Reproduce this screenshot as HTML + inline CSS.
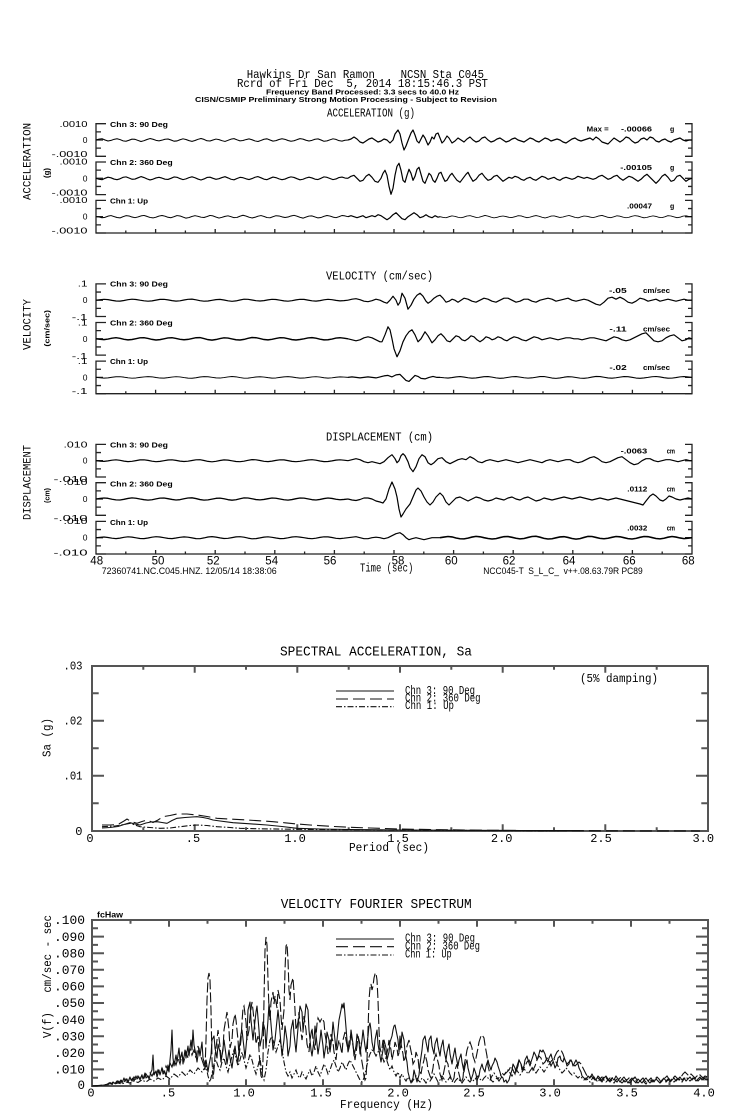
<!DOCTYPE html>
<html><head><meta charset="utf-8"><style>
html,body{margin:0;padding:0;background:#fff;}
body{width:739px;height:1115px;overflow:hidden;}
svg{display:block;}
.m{font-family:"Liberation Mono",monospace;fill:#000;}
.b{font-family:"Liberation Sans",sans-serif;font-weight:bold;fill:#000;}
.n{font-family:"Liberation Sans",sans-serif;fill:#000;}
.tr{fill:none;stroke:#000;stroke-width:1.2;stroke-linejoin:round;}
.ax{fill:none;stroke:#222;stroke-width:1.3;}
.bx{fill:none;stroke:#555;stroke-width:2;}
.s1{fill:none;stroke:#111;stroke-width:1.1;stroke-linejoin:round;}
.s2{fill:none;stroke:#111;stroke-width:1.1;stroke-dasharray:10 3;}
.s3{fill:none;stroke:#111;stroke-width:1.1;stroke-dasharray:6 2 1.5 2;}
</style></head><body>
<svg width="739" height="1115" viewBox="0 0 739 1115" xmlns="http://www.w3.org/2000/svg">
<rect x="0" y="0" width="739" height="1115" fill="#fff"/>
<defs>
<polyline id="nA" class="tr" points="0,0 3,-1 6,-1.5 9,0 12,1.2 15,0.5 18,-0.8 21,-1.5 24,-0.5 27,1 30,1.5 33,0.3 36,-1 39,-0.8 42,0.5 45,1.8 48,0.8 51,-0.6 54,-1.7 57,-0.9 60,0.4 63,1 66,0.2 69,-0.9 72,-1.2 75,0 78,1.4 81,1.1 84,-0.3 87,-1.4 90,-0.6 93,0.7 96,1.6 99,0.6 102,-0.8 105,-1.8 108,-0.7 111,0.9 114,1.2 117,0 120,-1.1 123,-0.4 126,0.8 129,1.7 132,0.4 135,-1 138,-1.6 141,-0.2 144,1 147,0.6 150,-0.5 153,-1.3 156,-0.3 159,1.1 162,1.8 165,0.5 168,-0.9 171,-1.4 174,0 177,1.3 180,0.7 183,-0.6 186,-1.5 189,-0.8 192,0.6 195,1.5 198,0.9 201,-0.4 204,-1.6 207,-1 210,0.3 213,1.2 216,0.4 219,-0.9 222,-1.3 225,0 228,1.5 231,1 234,-0.2 237,-1.4 240,-0.7 243,0.8 246,1.3 249,0.3 252,0"/>
<polyline id="nV" class="tr" points="0,0 4,-0.5 8,-0.9 12,-0.6 16,0.2 20,0.8 24,0.9 28,0.3 32,-0.5 36,-1 40,-0.7 44,0 48,0.6 52,1 56,0.7 60,-0.1 64,-0.8 68,-0.9 72,-0.3 76,0.4 80,0.9 84,0.6 88,-0.2 92,-0.9 96,-1.1 100,-0.4 104,0.5 108,1 112,0.8 116,0.1 120,-0.6 124,-0.8 128,-0.2 132,0.6 136,1.1 140,0.7 144,-0.2 148,-1 152,-0.9 156,-0.2 160,0.5 164,0.8 168,0.4 172,-0.3 176,-0.9 180,-0.7 184,0 188,0.7 192,1 196,0.5 200,-0.3 204,-0.9 208,-0.8 212,-0.1 216,0.6 220,0.9 224,0.4 228,-0.4 232,-0.9 236,-0.5 240,0.2 244,0.7 248,0.4 252,0"/>
<path id="brk" class="ax" d="M106,-16.3H96V16.3H106 M96,-8.15H101 M96,0H103 M96,8.15H101 M685,-16.3H692V16.3H685 M692,-8.15H688 M692,0H685 M692,8.15H688"/>
<path id="tax" class="ax" d="M96,0H692 M125.8,0v-2.5 M155.6,0v-4 M185.4,0v-2.5 M215.2,0v-4 M245,0v-2.5 M274.8,0v-4 M304.6,0v-2.5 M334.4,0v-4 M364.2,0v-2.5 M394,0v-4 M423.8,0v-2.5 M453.6,0v-4 M483.4,0v-2.5 M513.2,0v-4 M543,0v-2.5 M572.8,0v-4 M602.6,0v-2.5 M632.4,0v-4 M662.2,0v-2.5"/>
</defs>

<!-- Header -->
<text class="m" x="246.7" y="77.8" font-size="12" textLength="237.3" lengthAdjust="spacingAndGlyphs" style="white-space:pre">Hawkins Dr San Ramon    NCSN Sta C045</text>
<text class="m" x="237" y="87" font-size="12" textLength="251" lengthAdjust="spacingAndGlyphs" style="white-space:pre">Rcrd of Fri Dec  5, 2014 18:15:46.3 PST</text>
<text class="b" x="266" y="94.3" font-size="7" textLength="193" lengthAdjust="spacingAndGlyphs">Frequency Band Processed: 3.3 secs to 40.0 Hz</text>
<text class="b" x="195" y="101.8" font-size="7" textLength="302" lengthAdjust="spacingAndGlyphs">CISN/CSMIP Preliminary Strong Motion Processing - Subject to Revision</text>

<!-- ACCELERATION panel -->
<text class="m" x="327" y="116.7" font-size="11.5" textLength="88" lengthAdjust="spacingAndGlyphs">ACCELERATION (g)</text>
<text class="m" transform="translate(30.7,161.5) rotate(-90)" text-anchor="middle" font-size="11" textLength="77" lengthAdjust="spacingAndGlyphs">ACCELERATION</text>
<text class="b" transform="translate(49.5,173) rotate(-90)" text-anchor="middle" font-size="8" textLength="10" lengthAdjust="spacingAndGlyphs">(g)</text>
<use href="#brk" transform="translate(0,140)"/>
<use href="#brk" transform="translate(0,178.3)"/>
<use href="#brk" transform="translate(0,216.7)"/>
<use href="#tax" transform="translate(0,233)"/>
<g class="n" font-size="8.5" text-anchor="end">
<text x="87.5" y="127" textLength="28" lengthAdjust="spacingAndGlyphs">.0010</text>
<text x="87.5" y="143">0</text>
<text x="87.5" y="157" textLength="36" lengthAdjust="spacingAndGlyphs">-.0010</text>
<text x="87.5" y="164.5" textLength="28" lengthAdjust="spacingAndGlyphs">.0010</text>
<text x="87.5" y="181.3">0</text>
<text x="87.5" y="195.5" textLength="36" lengthAdjust="spacingAndGlyphs">-.0010</text>
<text x="87.5" y="203" textLength="28" lengthAdjust="spacingAndGlyphs">.0010</text>
<text x="87.5" y="219.7">0</text>
<text x="87.5" y="233.7" textLength="36" lengthAdjust="spacingAndGlyphs">-.0010</text>
</g>
<g class="b" font-size="7">
<text x="110" y="127" textLength="58" lengthAdjust="spacingAndGlyphs">Chn 3: 90 Deg</text>
<text x="110" y="165" textLength="62.7" lengthAdjust="spacingAndGlyphs">Chn 2: 360 Deg</text>
<text x="110" y="203.4" textLength="38" lengthAdjust="spacingAndGlyphs">Chn 1: Up</text>
<text x="586.7" y="131.7" textLength="22" lengthAdjust="spacingAndGlyphs">Max =</text>
<text x="652" y="131.7" text-anchor="end" textLength="31" lengthAdjust="spacingAndGlyphs">-.00066</text>
<text x="670" y="131.7">g</text>
<text x="652" y="170" text-anchor="end" textLength="31.7" lengthAdjust="spacingAndGlyphs">-.00105</text>
<text x="670" y="170">g</text>
<text x="652" y="208.7" text-anchor="end" textLength="25" lengthAdjust="spacingAndGlyphs">.00047</text>
<text x="670" y="208.7">g</text>
</g>
<use href="#nA" transform="translate(96,140) scale(1,0.85)"/>
<polyline class="tr" transform="translate(0,140)" points="348,0 351,-1 354,-3 357,-1 360,2 363,3 366,1 369,-1 372,-2 375,0 378,2 381,1 384,-1 387,0 390,3 393,0 395,-6 398,-10 400,-6 402,3 404,10 406,6 409,-2 411,-7 413,-10 415,-5 417,1 419,3 421,-1 423,-5 425,-2 428,5 430,2 432,-3 434,-1 436,-6 438,-7 440,-2 442,3 444,1 447,-4 449,-2 452,3 455,1 458,-2 461,0 464,2 467,-1 470,-3 473,0 476,2 479,1 482,-2 485,-3 488,0 491,2 494,1 497,-1 500,-2 503,0 506,2 509,1 512,-1 515,-2 518,0 521,1 524,2 527,0 530,-2 533,-1 536,1 539,2 542,0 545,-2 548,-1 551,1 554,0 557,-1 560,0 563,2 566,3 569,1 572,-1 575,-2 578,0 581,1 584,0 587,-1 590,-2 593,0 596,-3 599,-1 602,2 605,3 608,4 611,1 614,-2 617,0 620,2 623,0 626,-3 629,-2 632,1 635,3 638,2 641,-1 644,-2 647,0 650,-3 653,-2 656,1 659,2 662,0 665,-1 668,1 671,2 674,0 677,-1 680,-2 683,0 686,1 689,0 692,0"/>
<use href="#nA" transform="translate(96,178.3) scale(1,-0.95)"/>
<polyline class="tr" transform="translate(0,178.3)" points="348,0 351,-2 354,-3 357,0 360,3 363,2 366,-2 369,-4 372,-1 375,3 378,4 381,0 383,-5 385,-8 387,-3 389,8 391,16 393,10 395,-3 397,-12 399,-15 401,-8 403,2 405,4 407,-3 409,-9 411,-5 413,2 415,-2 417,-9 419,-11 421,-4 423,3 425,5 427,0 429,-5 431,-3 433,2 435,4 437,0 439,-5 441,-6 443,-1 445,3 447,2 450,-3 452,-5 454,-2 457,2 460,4 463,0 466,-4 468,-6 470,-2 473,3 476,1 479,-3 482,-5 485,-1 488,2 491,1 494,-2 497,-3 500,0 503,3 506,1 509,-1 512,0 515,-2 518,-1 521,1 524,2 527,0 530,-1 533,1 536,2 539,0 542,-2 545,-1 548,1 551,0 554,-1 557,1 560,2 563,0 566,-1 569,0 572,1 575,0 578,-2 581,-1 584,0 587,-1 590,0 593,1 596,0 599,-2 602,-3 605,-1 608,1 611,0 614,-2 617,-3 620,0 623,2 626,0 629,-2 632,-1 635,1 638,3 641,1 644,-2 647,-4 650,-1 653,2 656,5 659,2 662,-2 665,-4 668,-1 671,3 674,2 677,-2 680,-3 683,0 686,3 689,1 692,0"/>
<use href="#nA" transform="translate(348,216.7) scale(-1,0.8)"/>
<polyline class="tr" transform="translate(0,216.7)" points="348,0 351,-1 354,0 357,1 360,0 363,-1 366,1 369,0 372,-1 375,0 378,-2 381,-1 384,1 387,3 390,1 393,-2 396,-4 399,-1 402,2 405,3 408,0 411,-2 414,-4 417,-2 420,1 423,0 426,-2 429,0 432,1 435,-1 438,0.5 440,0"/>
<use href="#nA" transform="translate(440,216.7) scale(1,-0.7)"/>

<!-- VELOCITY panel -->
<text class="m" x="326" y="279.3" font-size="11.5" textLength="107" lengthAdjust="spacingAndGlyphs">VELOCITY (cm/sec)</text>
<text class="m" transform="translate(30.7,324.5) rotate(-90)" text-anchor="middle" font-size="11" textLength="51" lengthAdjust="spacingAndGlyphs">VELOCITY</text>
<text class="b" transform="translate(49.5,328.3) rotate(-90)" text-anchor="middle" font-size="7.5" textLength="36.7" lengthAdjust="spacingAndGlyphs">(cm/sec)</text>
<use href="#brk" transform="translate(0,300.2)"/>
<use href="#brk" transform="translate(0,338.8)"/>
<use href="#brk" transform="translate(0,377.4)"/>
<use href="#tax" transform="translate(0,393.7)"/>
<g class="n" font-size="8.5" text-anchor="end">
<text x="87.5" y="286.3" textLength="9.7" lengthAdjust="spacingAndGlyphs">.1</text>
<text x="87.5" y="303.2">0</text>
<text x="87.5" y="320" textLength="15.7" lengthAdjust="spacingAndGlyphs">-.1</text>
<text x="87.5" y="325.5" textLength="9.7" lengthAdjust="spacingAndGlyphs">.1</text>
<text x="87.5" y="341.8">0</text>
<text x="87.5" y="359" textLength="15.7" lengthAdjust="spacingAndGlyphs">-.1</text>
<text x="87.5" y="364" textLength="9.7" lengthAdjust="spacingAndGlyphs">.1</text>
<text x="87.5" y="380.4">0</text>
<text x="87.5" y="394" textLength="15.7" lengthAdjust="spacingAndGlyphs">-.1</text>
</g>
<g class="b" font-size="7">
<text x="110" y="286.7" textLength="58" lengthAdjust="spacingAndGlyphs">Chn 3: 90 Deg</text>
<text x="110" y="325.5" textLength="62.7" lengthAdjust="spacingAndGlyphs">Chn 2: 360 Deg</text>
<text x="110" y="364" textLength="38" lengthAdjust="spacingAndGlyphs">Chn 1: Up</text>
<text x="626.7" y="293" text-anchor="end" textLength="17.7" lengthAdjust="spacingAndGlyphs">-.05</text>
<text x="643" y="293" textLength="27" lengthAdjust="spacingAndGlyphs">cm/sec</text>
<text x="626.7" y="331.5" text-anchor="end" textLength="17.3" lengthAdjust="spacingAndGlyphs">-.11</text>
<text x="643" y="331.5" textLength="27" lengthAdjust="spacingAndGlyphs">cm/sec</text>
<text x="626.7" y="369.8" text-anchor="end" textLength="17.3" lengthAdjust="spacingAndGlyphs">-.02</text>
<text x="643" y="369.8" textLength="27" lengthAdjust="spacingAndGlyphs">cm/sec</text>
</g>
<use href="#nV" transform="translate(96,300.2)"/>
<polyline class="tr" transform="translate(0,300.2)" points="348,0 352,-1 356,-1.5 360,-0.5 364,1 368,1.5 372,0.5 376,-1 380,0 384,2 387,3 390,0 393,-4 396,0 398,5 400,2 402,-7 405,-2 408,9 411,5 414,-1 417,-5 420,-7 423,-4 426,1 428,3 431,1 434,-2 437,-4 440,-5 443,-2 446,2 449,1 452,-1 455,0 458,2 461,0 464,-2 468,-1 472,1 476,2 480,0 484,-2 488,-1 492,1 496,2 500,0 504,-2 508,-2 512,0 516,2 520,1 524,-1 528,-1 532,1 536,2 540,0 544,-1 548,-2 552,-1 556,1 560,0 564,-1 568,-2 572,0 576,1 580,0 584,-1 588,0 592,2 596,4 600,5 604,2 608,-2 612,-3 616,-1 620,-3 624,-1 628,2 632,3 636,1 640,-2 644,-1 648,1 652,0 656,-1 660,1 664,0 668,-1 672,0 676,1 680,0 684,-1 688,0 692,0"/>
<use href="#nV" transform="translate(348,338.8) scale(-1,1.2)"/>
<polyline class="tr" transform="translate(0,338.8)" points="348,0 352,1 356,2 360,1 364,-1 368,-2 372,-1 376,1 380,3 382,3 385,-4 388,-12 390,-9 392,0 394,10 397,18 400,12 403,3 406,-3 409,-7 412,-9 415,-4 418,3 421,0 425,-7 428,-3 432,4 435,1 438,-3 441,-5 444,-2 447,2 450,3 453,0 456,-3 459,-2 462,1 465,2 468,0 471,-3 474,-2 477,1 480,3 483,1 486,-2 489,-1 492,1 495,0 498,-2 501,-1 504,1 507,2 510,0 514,-2 518,-1 522,1 526,2 530,0 534,-2 538,-1 542,1 546,0 550,-1 554,0 558,1 562,0 566,-1 570,-1 574,0 578,0 582,1 586,0 590,-1 594,-1 598,0 602,1 606,2 610,0 614,-2 618,-1 622,1 626,2 630,1 634,-1 638,-3 642,-5 646,-6 650,-2 654,2 658,3 662,2 666,-1 670,-3 674,-4 678,-1 682,2 686,1 689,-1 692,0"/>
<use href="#nV" transform="translate(96,377.4) scale(1,-0.8)"/>
<polyline class="tr" transform="translate(0,377.4)" points="348,0 352,-0.5 356,0 360,0.5 364,0 368,-0.5 372,0 376,0.5 380,-0.5 384,-1.5 388,-2 392,-0.5 396,-2.5 400,-3 403,0 406,3 409,4 412,1 415,-2 418,-1 421,1 425,1.5 429,0 433,-1 437,0 440,0"/>
<use href="#nV" transform="translate(692,377.4) scale(-1,0.9)"/>

<!-- DISPLACEMENT panel -->
<text class="m" x="326" y="440.7" font-size="11.5" textLength="107" lengthAdjust="spacingAndGlyphs">DISPLACEMENT (cm)</text>
<text class="m" transform="translate(30.7,482.5) rotate(-90)" text-anchor="middle" font-size="11" textLength="75" lengthAdjust="spacingAndGlyphs">DISPLACEMENT</text>
<text class="b" transform="translate(49.5,495.5) rotate(-90)" text-anchor="middle" font-size="7.5" textLength="15" lengthAdjust="spacingAndGlyphs">(cm)</text>
<use href="#brk" transform="translate(0,460.7)"/>
<use href="#brk" transform="translate(0,499)"/>
<use href="#brk" transform="translate(0,537.7)"/>
<use href="#tax" transform="translate(0,554)"/>
<g class="n" font-size="8.5" text-anchor="end">
<text x="87.5" y="447.3" textLength="24" lengthAdjust="spacingAndGlyphs">.010</text>
<text x="87.5" y="463.7">0</text>
<text x="87.5" y="482" textLength="34" lengthAdjust="spacingAndGlyphs">-.010</text>
<text x="87.5" y="485" textLength="24" lengthAdjust="spacingAndGlyphs">.010</text>
<text x="87.5" y="502">0</text>
<text x="87.5" y="521" textLength="34" lengthAdjust="spacingAndGlyphs">-.010</text>
<text x="87.5" y="524" textLength="24" lengthAdjust="spacingAndGlyphs">.010</text>
<text x="87.5" y="540.7">0</text>
<text x="87.5" y="555.7" textLength="34" lengthAdjust="spacingAndGlyphs">-.010</text>
</g>
<g class="b" font-size="7">
<text x="110" y="447.3" textLength="58" lengthAdjust="spacingAndGlyphs">Chn 3: 90 Deg</text>
<text x="110" y="486.5" textLength="62.7" lengthAdjust="spacingAndGlyphs">Chn 2: 360 Deg</text>
<text x="110" y="525" textLength="38" lengthAdjust="spacingAndGlyphs">Chn 1: Up</text>
<text x="647.3" y="453.5" text-anchor="end" textLength="26.7" lengthAdjust="spacingAndGlyphs">-.0063</text>
<text x="666.7" y="453.5" textLength="8.3" lengthAdjust="spacingAndGlyphs">cm</text>
<text x="647.3" y="491.6" text-anchor="end" textLength="20" lengthAdjust="spacingAndGlyphs">.0112</text>
<text x="666.7" y="491.6" textLength="8.3" lengthAdjust="spacingAndGlyphs">cm</text>
<text x="647.3" y="530.4" text-anchor="end" textLength="20" lengthAdjust="spacingAndGlyphs">.0032</text>
<text x="666.7" y="530.4" textLength="8.3" lengthAdjust="spacingAndGlyphs">cm</text>
</g>
<use href="#nV" transform="translate(348,460.7) scale(-1,1)"/>
<polyline class="tr" transform="translate(0,460.7)" points="348,0 352,-1 356,-2 360,-1 364,1 368,2 372,1 376,2 380,3 384,1 388,-3 392,-6 395,-2 397,2 399,0 401,-5 403,-7 405,-5 408,1 410,7 413,11 416,6 419,-2 422,-6 425,-4 428,2 431,4 434,2 438,-2 442,-3 446,1 450,3 454,1 458,-1 462,-2 466,-1 470,-4 474,-2 478,1 482,2 486,0 490,-1 494,0 498,1 502,0 506,-1 510,0 514,1 518,2 522,1 526,0 530,-1 534,0 538,1 542,2 546,0 550,-1 554,0 558,1 562,0 566,-1 570,-1 574,1 578,2 582,1 586,-1 590,-3 594,-4 598,-2 602,1 606,2 610,1 614,-1 618,-3 622,-4 626,-1 630,2 634,4 638,3 642,0 646,-2 650,-2 654,0 658,1 662,0 666,-1 670,-1 674,0 678,1 682,0 686,-1 690,0 692,0"/>
<use href="#nV" transform="translate(96,499) scale(1,1.1)"/>
<polyline class="tr" transform="translate(0,499)" points="348,0 352,1 356,1.5 360,0.5 364,-1 368,-1 372,0 376,2 380,3 383,4 386,0 389,-10 392,-17 395,-10 397,-2 399,10 401,18 403,15 406,10 410,5 413,-2 416,-9 418,-11 421,-8 424,-2 427,3 430,6 433,3 436,-2 440,-6 443,-3 446,3 449,6 452,3 456,-1 460,-2 464,0 468,2 472,0 476,-2 480,-1 484,1 488,2 492,1 496,-1 500,0 504,1 508,-1 512,-2 516,0 520,1 524,-1 528,-2 532,0 536,2 540,1 544,-1 548,0 552,1 556,0 560,-1 564,-2 568,-1 572,0 576,-1 580,-2 584,-1 588,0 592,1 596,0 600,-1 604,0 608,1 612,0 616,-1 620,0 624,1 628,2 632,3 636,4 640,5 643,6 646,2 650,-3 653,-5 656,-3 660,1 663,2 666,0 669,-3 672,-2 676,0 680,1 684,0 688,-1 692,0"/>
<use href="#nV" transform="translate(348,537.7) scale(-1,-1)"/>
<polyline class="tr" transform="translate(0,537.7)" points="348,0 352,-0.5 356,-1 360,0 364,1 368,1 372,0 376,-0.5 380,0 384,1 388,0 392,-2 396,-4 400,-5 403,-3 406,0 409,2 412,1 416,0 420,1 424,2 428,1 432,0 436,0 440,0"/>
<use href="#nV" transform="translate(440,537.7) scale(1,1.3)"/>

<!-- time axis labels -->
<g class="n" font-size="11.5" text-anchor="middle">
<text x="96.7" y="564.3">48</text>
<text x="158" y="564.3">50</text>
<text x="213.3" y="564.3">52</text>
<text x="271.7" y="564.3">54</text>
<text x="330" y="564.3">56</text>
<text x="398" y="564.3">58</text>
<text x="451.3" y="564.3">60</text>
<text x="509" y="564.3">62</text>
<text x="569" y="564.3">64</text>
<text x="629.3" y="564.3">66</text>
<text x="688.3" y="564.3">68</text>
</g>
<text class="m" x="360" y="571.5" font-size="12" textLength="53.3" lengthAdjust="spacingAndGlyphs">Time (sec)</text>
<text class="n" x="101.7" y="574" font-size="9" textLength="175" lengthAdjust="spacingAndGlyphs">72360741.NC.C045.HNZ. 12/05/14 18:38:06</text>
<text class="n" x="483.3" y="574" font-size="9" textLength="159.4" lengthAdjust="spacingAndGlyphs" style="white-space:pre">NCC045-T  S_L_C_  v++.08.63.79R PC89</text>

<!-- SPECTRAL ACCELERATION -->
<text class="m" x="280" y="655.5" font-size="14" textLength="192" lengthAdjust="spacingAndGlyphs">SPECTRAL ACCELERATION, Sa</text>
<rect class="bx" x="92" y="666" width="616" height="165"/>
<path class="bx" d="M92,803.3h6.7 M92,775.7h12 M92,748.3h6.7 M92,720.7h12 M92,693.3h6.7 M708,803.3h-6.7 M708,775.7h-12 M708,748.3h-6.7 M708,720.7h-12 M708,693.3h-6.7 M143.3,666v3.7 M194.7,666v6.7 M246,666v3.7 M297.3,666v6.7 M348.7,666v3.7 M400,666v6.7 M451.3,666v3.7 M502.7,666v6.7 M554,666v3.7 M605.3,666v6.7 M656.7,666v3.7 M143.3,831v-3.7 M194.7,831v-6.7 M246,831v-3.7 M297.3,831v-6.7 M348.7,831v-3.7 M400,831v-6.7 M451.3,831v-3.7 M502.7,831v-6.7 M554,831v-3.7 M605.3,831v-6.7 M656.7,831v-3.7"/>
<g class="m" font-size="12">
<text x="82.5" y="669.3" text-anchor="end" textLength="19" lengthAdjust="spacingAndGlyphs">.03</text>
<text x="82.5" y="724.7" text-anchor="end" textLength="19" lengthAdjust="spacingAndGlyphs">.02</text>
<text x="82.5" y="779.7" text-anchor="end" textLength="19" lengthAdjust="spacingAndGlyphs">.01</text>
<text x="82.5" y="835" text-anchor="end">0</text>
<g text-anchor="middle">
<text x="90" y="842">0</text>
<text x="193" y="842">.5</text>
<text x="295" y="842">1.0</text>
<text x="398" y="842">1.5</text>
<text x="501.7" y="842">2.0</text>
<text x="601" y="842">2.5</text>
<text x="703.3" y="842">3.0</text>
</g>
<text x="349" y="851" textLength="80" lengthAdjust="spacingAndGlyphs">Period (sec)</text>
<text x="580" y="682" textLength="78" lengthAdjust="spacingAndGlyphs">(5% damping)</text>
</g>
<text class="m" transform="translate(50.5,737.5) rotate(-90)" text-anchor="middle" font-size="12" textLength="39" lengthAdjust="spacingAndGlyphs">Sa (g)</text>
<path class="s1" d="M336,691H394"/>
<path class="s2" d="M336,699H394" style="stroke-dasharray:12 5"/>
<path class="s3" d="M336,706.7H394"/>
<g class="m" font-size="12">
<text x="405" y="694" textLength="70" lengthAdjust="spacingAndGlyphs">Chn 3: 90 Deg</text>
<text x="405" y="701.7" textLength="75.5" lengthAdjust="spacingAndGlyphs">Chn 2: 360 Deg</text>
<text x="405" y="709.2" textLength="49" lengthAdjust="spacingAndGlyphs">Chn 1: Up</text>
</g>
<polyline class="s1" points="102,828 110,827.5 118,826.5 124,824.5 130,822.7 135,824 140,825 146,823 151,822 157,821.7 162,822.5 167,823.3 172,820.5 177,818.3 185,817.5 192,817 197,816.7 203,817.5 208,818.5 213,820 220,821 233,822.7 250,823.8 267,825 282,826.5 297,828.3 320,829 350,829.5 400,830 460,830.3 520,830.5 580,830.6"/>
<polyline class="s2" style="stroke-dasharray:12 5" points="102,825 110,825 118,824.5 124,821 127,819 131,821.5 137,823.3 142,821.5 147,820 153,822.5 158,820 163,816.7 170,815.5 177,814 187,814 197,815 207,816.5 217,818.3 232,819.2 247,820 260,820.8 273,821.7 285,822.8 297,824 310,825 330,826.3 350,827.3 370,828 400,829 440,829.7 480,830.2 520,830.5 580,830.7 640,830.9 700,831"/>
<polyline class="s3" points="102,826.7 115,826 124,824.5 130,823.3 135,825 140,826.7 150,827.5 160,828.3 170,828 180,826.7 190,825.5 197,825 207,825.5 217,826.7 230,827.5 240,828.3 260,828.8 297,829.3 340,829.8 400,830.2 480,830.5 560,830.7"/>

<!-- VELOCITY FOURIER SPECTRUM -->
<text class="m" x="280.7" y="908" font-size="14" textLength="191" lengthAdjust="spacingAndGlyphs">VELOCITY FOURIER SPECTRUM</text>
<text class="b" x="97" y="917.5" font-size="8" textLength="26" lengthAdjust="spacingAndGlyphs">fcHaw</text>
<rect class="bx" x="92" y="920" width="616" height="166"/>
<path class="bx" d="M92,1077.7h6 M92,1069.4h12 M92,1061.1h6 M92,1052.8h12 M92,1044.5h6 M92,1036.2h12 M92,1027.9h6 M92,1019.6h12 M92,1011.3h6 M92,1003h12 M92,994.7h6 M92,986.4h12 M92,978.1h6 M92,969.8h12 M92,961.5h6 M92,953.2h12 M92,944.9h6 M92,936.6h12 M92,928.3h6 M708,1077.7h-6 M708,1069.4h-12 M708,1061.1h-6 M708,1052.8h-12 M708,1044.5h-6 M708,1036.2h-12 M708,1027.9h-6 M708,1019.6h-12 M708,1011.3h-6 M708,1003h-12 M708,994.7h-6 M708,986.4h-12 M708,978.1h-6 M708,969.8h-12 M708,961.5h-6 M708,953.2h-12 M708,944.9h-6 M708,936.6h-12 M708,928.3h-6 M130.5,920v3.7 M169,920v6.7 M207.5,920v3.7 M246,920v6.7 M284.5,920v3.7 M323,920v6.7 M361.5,920v3.7 M400,920v6.7 M438.5,920v3.7 M477,920v6.7 M515.5,920v3.7 M554,920v6.7 M592.5,920v3.7 M631,920v6.7 M669.5,920v3.7 M130.5,1086v-3.7 M169,1086v-6.7 M207.5,1086v-3.7 M246,1086v-6.7 M284.5,1086v-3.7 M323,1086v-6.7 M361.5,1086v-3.7 M400,1086v-6.7 M438.5,1086v-3.7 M477,1086v-6.7 M515.5,1086v-3.7 M554,1086v-6.7 M592.5,1086v-3.7 M631,1086v-6.7 M669.5,1086v-3.7"/>
<g class="m" font-size="12.5" text-anchor="end">
<text x="85" y="924.2" textLength="31" lengthAdjust="spacingAndGlyphs">.100</text>
<text x="85" y="940.8" textLength="31" lengthAdjust="spacingAndGlyphs">.090</text>
<text x="85" y="957.4" textLength="31" lengthAdjust="spacingAndGlyphs">.080</text>
<text x="85" y="974" textLength="31" lengthAdjust="spacingAndGlyphs">.070</text>
<text x="85" y="990.6" textLength="31" lengthAdjust="spacingAndGlyphs">.060</text>
<text x="85" y="1007.2" textLength="31" lengthAdjust="spacingAndGlyphs">.050</text>
<text x="85" y="1023.8" textLength="31" lengthAdjust="spacingAndGlyphs">.040</text>
<text x="85" y="1040.4" textLength="31" lengthAdjust="spacingAndGlyphs">.030</text>
<text x="85" y="1057" textLength="31" lengthAdjust="spacingAndGlyphs">.020</text>
<text x="85" y="1073.6" textLength="31" lengthAdjust="spacingAndGlyphs">.010</text>
<text x="85" y="1089">0</text>
</g>
<g class="m" font-size="12" text-anchor="middle">
<text x="91" y="1096.5">0</text>
<text x="168" y="1096.5">.5</text>
<text x="244" y="1096.5">1.0</text>
<text x="321" y="1096.5">1.5</text>
<text x="398" y="1096.5">2.0</text>
<text x="474" y="1096.5">2.5</text>
<text x="550" y="1096.5">3.0</text>
<text x="627" y="1096.5">3.5</text>
<text x="704" y="1096.5">4.0</text>
</g>
<text class="m" x="340" y="1108" font-size="12" textLength="93" lengthAdjust="spacingAndGlyphs">Frequency (Hz)</text>
<text class="m" transform="translate(51,976.5) rotate(-90)" text-anchor="middle" font-size="12" textLength="123" lengthAdjust="spacingAndGlyphs" style="white-space:pre">V(f)   cm/sec - sec</text>
<path class="s1" d="M336,939H394"/>
<path class="s2" d="M336,946.7H394" style="stroke-dasharray:12 5"/>
<path class="s3" d="M336,955H394"/>
<g class="m" font-size="12">
<text x="405" y="941.7" textLength="70" lengthAdjust="spacingAndGlyphs">Chn 3: 90 Deg</text>
<text x="405" y="949.3" textLength="75" lengthAdjust="spacingAndGlyphs">Chn 2: 360 Deg</text>
<text x="405" y="957.3" textLength="46.7" lengthAdjust="spacingAndGlyphs">Chn 1: Up</text>
</g>
<polyline class="s1" points="92,1086 96,1086 100,1085.5 104,1085 107,1084.5 109,1083 111,1084 113,1082 115,1083.5 117,1081 119,1082.5 121,1080 122,1083 124,1078 125,1081 127,1079 128,1082 130,1077 131,1080 133,1078 134,1081 136,1076 137,1079 139,1077 140,1080 142,1075 143,1079 145,1073 146,1078 148,1076 149,1079 151,1072 152,1070 153,1055 154,1075 156,1071 157,1077 159,1070 160,1075 162,1068 163,1074 165,1072 166,1076 168,1065 169,1072 170,1060 171,1050 172,1030 173,1058 174,1066 176,1055 177,1062 179,1048 180,1060 182,1052 183,1064 185,1050 186,1058 188,1046 189,1056 191,1040 192,1050 193,1030 194,1045 196,1055 197,1062 199,1048 200,1056 202,1042 203,1058 205,1066 206,1060 208,1072 209,1065 211,1055 212,1040 214,1036 215,1048 217,1058 218,1044 220,1052 221,1062 223,1048 224,1040 226,1055 227,1064 229,1050 230,1058 232,1068 233,1060 235,1046 236,1054 238,1062 239,1050 241,1034 242,1030 244,1048 245,1058 247,1036 248,1010 250,1002 251,1020 253,1040 254,1030 256,1012 257,1006 259,1030 260,1046 262,1036 263,1022 265,1030 266,1048 268,1020 269,1004 270,1012 272,1036 273,1050 275,1040 276,1030 278,1010 279,1020 281,1044 282,1056 284,1040 285,1026 287,1040 288,1056 290,1046 291,1030 293,1020 294,1034 296,1052 297,1040 299,1016 300,1006 302,1012 303,1030 305,1015 306,1004 308,1010 309,1030 311,1050 312,1056 314,1040 315,1026 317,1044 318,1054 320,1040 321,1030 323,1046 324,1058 326,1044 327,1032 329,1040 330,1052 332,1036 333,1022 335,1040 336,1050 338,1030 339,1020 341,1010 342,1004 343,1008 344,1003 345,1015 347,1040 348,1052 350,1044 351,1030 353,1044 354,1056 356,1046 357,1034 359,1042 360,1054 362,1040 363,1030 365,1046 366,1052 368,1036 369,1026 370,1023 371,1030 372,1042 374,1052 375,1040 377,1030 378,1044 380,1056 381,1062 383,1050 384,1040 386,1048 387,1060 389,1052 390,1042 392,1036 393,1030 394,1026 395,1025 396,1030 398,1040 399,1052 400,1036 401,1046 402,1032 404,1040 405,1052 407,1062 408,1072 410,1080 411,1083 413,1078 414,1070 416,1078 417,1082 419,1075 420,1064 422,1050 423,1040 425,1036 426,1042 428,1052 429,1040 431,1036 432,1046 434,1054 435,1044 437,1038 438,1046 440,1056 441,1048 443,1040 444,1050 446,1060 447,1052 449,1044 450,1054 452,1064 453,1058 455,1048 456,1056 458,1066 459,1060 461,1054 462,1062 464,1072 465,1066 467,1060 468,1068 470,1076 471,1080 473,1074 474,1068 476,1074 477,1080 479,1076 480,1070 482,1064 483,1068 485,1072 486,1066 488,1060 489,1064 491,1070 492,1066 494,1062 495,1058 497,1062 498,1066 500,1072 501,1076 503,1078 504,1082 506,1080 507,1083 509,1080 510,1076 512,1070 513,1064 515,1068 516,1072 518,1066 519,1060 521,1064 522,1070 524,1066 525,1060 527,1056 528,1060 530,1066 531,1062 533,1056 534,1052 536,1056 537,1060 539,1054 540,1050 542,1052 543,1050 545,1054 546,1058 548,1062 549,1058 551,1054 552,1058 554,1064 555,1068 557,1064 558,1058 560,1056 561,1060 563,1062 564,1058 566,1062 567,1066 569,1064 570,1060 572,1062 573,1066 575,1062 576,1060 578,1064 579,1068 581,1072 582,1076 584,1078 586,1080 588,1076 590,1078 592,1074 594,1078 596,1080 598,1076 600,1078 602,1082 604,1078 606,1076 608,1079 610,1082 612,1078 614,1080 616,1076 618,1079 620,1082 622,1079 624,1077 626,1080 628,1083 630,1080 632,1078 634,1081 636,1083 638,1079 640,1081 642,1083 644,1080 646,1078 648,1081 650,1083 652,1080 654,1082 656,1079 658,1081 660,1083 662,1080 664,1078 666,1081 668,1079 670,1082 672,1080 674,1078 676,1081 678,1079 680,1077 682,1080 684,1078 686,1081 688,1079 690,1077 692,1080 694,1078 696,1081 698,1079 700,1077 702,1080 704,1078 706,1080 708,1079"/>
<polyline class="s2" points="92,1086 98,1085.5 104,1085 108,1084 110,1082.5 112,1084 114,1082 116,1083.5 118,1081 120,1083 122,1080 124,1082 126,1079 128,1082 130,1078 132,1081 134,1077 136,1080 138,1076 140,1079 142,1075 144,1078 146,1074 148,1077 150,1073 152,1076 154,1072 156,1075 158,1070 160,1074 162,1068 164,1073 166,1066 168,1070 170,1063 172,1067 174,1060 176,1065 178,1058 180,1064 182,1055 184,1061 186,1052 188,1058 190,1048 192,1055 194,1050 196,1058 198,1046 200,1054 202,1060 204,1066 205,1070 206,1040 207,1000 208,978 209,973 210,980 211,1010 212,1060 213,1079 214,1070 215,1056 217,1040 218,1030 220,1046 221,1060 223,1050 224,1030 226,1018 227,1012 229,1030 230,1048 232,1040 233,1024 235,1014 236,1020 238,1040 239,1056 241,1040 242,1022 243,1008 244,1006 246,1022 247,1040 249,1030 250,1016 252,1002 253,1010 255,1030 256,1044 258,1036 259,1050 260,1066 261,1076 262,1078 263,1060 264,1000 265,950 266,937 267,945 268,980 269,1010 270,1020 271,1002 273,992 274,1004 275,996 277,1008 278,990 280,1000 281,1016 282,1030 284,1010 285,970 286,946 287,944 288,960 289,990 290,1000 291,985 293,978 294,992 295,1010 296,1030 298,1022 299,1012 300,1024 302,1040 303,1032 304,1016 306,1030 307,1044 309,1052 310,1040 312,1028 313,1040 315,1050 316,1036 317,1024 318,1018 320,1022 321,1020 322,1018 324,1022 325,1034 327,1046 328,1054 330,1044 331,1034 333,1042 334,1052 336,1060 337,1050 339,1040 340,1044 342,1054 343,1040 345,1032 346,1040 348,1050 349,1042 351,1034 352,1040 354,1052 355,1060 357,1046 358,1036 360,1044 361,1056 363,1068 364,1076 365,1080 366,1078 367,1060 368,1030 369,1000 370,988 371,984 372,990 373,986 374,978 375,974 376,973 377,980 378,1000 379,1030 380,1050 382,1048 383,1040 385,1052 386,1058 388,1048 389,1040 391,1050 392,1060 394,1050 395,1042 397,1048 398,1056 400,1050 401,1044 403,1054 404,1062 406,1054 407,1046 409,1040 410,1046 412,1056 413,1064 415,1060 416,1052 418,1058 419,1068 421,1074 422,1068 424,1060 425,1054 427,1062 428,1070 430,1076 431,1078 433,1068 434,1060 436,1054 437,1058 439,1066 440,1074 442,1080 443,1076 445,1066 446,1060 448,1064 449,1072 451,1078 452,1082 454,1078 455,1070 457,1064 458,1070 460,1078 461,1083 463,1078 464,1066 466,1056 467,1050 469,1044 470,1042 472,1048 473,1056 475,1062 476,1058 478,1048 479,1042 481,1036 482,1035 484,1038 485,1045 487,1056 488,1066 490,1074 491,1080 493,1082 495,1080 497,1078 499,1081 501,1078 503,1076 505,1074 507,1072 509,1070 511,1066 513,1070 515,1074 517,1066 519,1060 521,1064 523,1070 525,1066 527,1062 529,1060 531,1064 533,1070 535,1066 537,1060 539,1056 541,1058 543,1064 545,1062 547,1058 549,1060 551,1066 553,1062 555,1056 557,1052 559,1050 561,1050 563,1054 565,1060 567,1064 569,1062 571,1060 573,1064 575,1066 577,1064 579,1062 581,1064 583,1068 585,1072 587,1076 589,1078 591,1076 593,1078 595,1080 597,1077 599,1079 601,1081 603,1078 605,1076 607,1079 609,1081 611,1079 613,1077 615,1080 617,1082 619,1079 621,1077 623,1080 625,1082 627,1080 629,1078 631,1081 633,1079 635,1077 637,1080 639,1082 641,1080 643,1078 645,1081 647,1083 649,1080 651,1078 653,1081 655,1079 657,1077 659,1079 661,1082 663,1080 665,1078 667,1076 669,1079 671,1081 673,1078 675,1076 677,1078 679,1080 681,1077 683,1074 685,1072 687,1074 689,1076 691,1074 693,1076 695,1078 697,1076 699,1074 701,1076 703,1078 705,1076 708,1077"/>
<polyline class="s3" points="92,1086 100,1085.5 108,1085 114,1084 118,1083 122,1084 126,1082 130,1083 134,1081 138,1082.5 142,1080 146,1082 150,1079 154,1081 158,1078 162,1080 166,1076 170,1079 174,1074 178,1077 182,1072 186,1076 190,1070 194,1074 198,1068 202,1072 206,1066 208,1076 210,1082 212,1074 214,1064 216,1060 218,1066 220,1070 222,1062 224,1058 226,1066 228,1072 230,1064 232,1056 234,1050 236,1058 238,1066 240,1060 242,1052 244,1060 246,1068 248,1062 250,1054 252,1060 254,1068 256,1074 258,1066 260,1058 262,1074 264,1080 266,1070 268,1052 270,1040 272,1036 274,1044 276,1052 278,1046 280,1040 282,1050 284,1062 286,1072 288,1076 290,1072 292,1078 294,1074 296,1070 298,1076 300,1078 302,1072 304,1076 306,1079 308,1074 310,1070 312,1076 314,1072 316,1066 318,1072 320,1076 322,1070 324,1064 326,1068 328,1074 330,1070 332,1064 334,1060 336,1066 338,1072 340,1068 342,1062 344,1066 346,1070 348,1064 350,1060 352,1064 354,1068 356,1072 358,1076 360,1080 362,1082 364,1078 366,1070 368,1060 370,1054 372,1050 374,1052 376,1056 378,1052 380,1048 382,1056 384,1062 386,1058 388,1064 390,1070 392,1066 394,1072 396,1076 398,1072 400,1078 402,1074 404,1078 406,1081 408,1077 410,1080 412,1082 414,1079 416,1076 418,1080 420,1082 422,1078 424,1080 426,1083 428,1079 430,1081 432,1078 434,1074 436,1078 438,1082 440,1080 442,1076 444,1079 446,1082 448,1080 450,1077 452,1081 454,1083 456,1080 458,1078 460,1081 462,1083 464,1080 466,1077 468,1080 470,1082 472,1079 474,1081 476,1078 478,1076 480,1079 482,1081 484,1078 486,1076 488,1078 490,1080 492,1076 494,1073 496,1076 498,1079 500,1076 502,1073 504,1075 506,1072 508,1070 510,1073 512,1076 514,1072 516,1069 518,1072 520,1075 522,1072 524,1069 526,1071 528,1074 530,1071 532,1068 534,1070 536,1073 538,1070 540,1067 542,1069 544,1072 546,1069 548,1066 550,1063 552,1060 554,1059 556,1062 558,1066 560,1070 562,1073 564,1071 566,1068 568,1070 570,1073 572,1075 574,1073 576,1076 578,1078 580,1076 582,1078 584,1080 586,1078 588,1080 590,1082 592,1079 594,1077 596,1080 598,1082 600,1079 602,1077 604,1080 606,1082 608,1080 610,1078 612,1081 614,1083 616,1080 618,1078 620,1081 622,1083 624,1081 626,1079 628,1082 630,1083 632,1080 634,1078 636,1081 638,1083 640,1081 642,1079 644,1082 646,1084 648,1081 650,1079 652,1082 654,1080 656,1078 658,1081 660,1083 662,1081 664,1079 666,1082 668,1080 670,1078 672,1080 674,1082 676,1080 678,1078 680,1080 682,1082 684,1079 686,1077 688,1079 690,1081 692,1079 694,1077 696,1079 698,1081 700,1079 702,1078 704,1080 706,1079 708,1080"/>
</svg>
</body></html>
